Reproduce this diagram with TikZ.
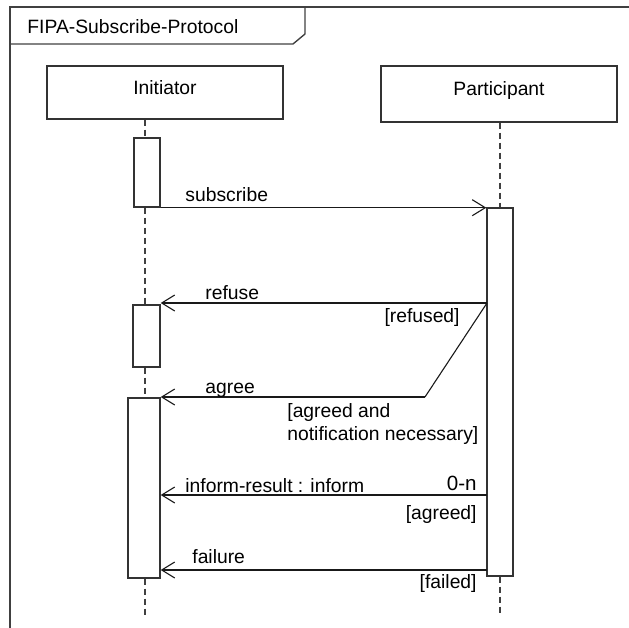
\documentclass[tikz,border=0pt]{standalone}
\usepackage{fontspec}
\setmainfont{Liberation Sans}
\usetikzlibrary{arrows.meta,calc}

\begin{document}
\begin{tikzpicture}[x=0.5pt,y=-0.5pt,
    frame/.style={draw=black!75,line width=0.7pt},
    actor/.style={rectangle,draw=black!80,line width=0.7pt,inner sep=0pt,
        font=\fontsize{9.65}{11.5}\selectfont,text height=8pt,text depth=6.5pt},
    activation/.style={rectangle,draw=black!80,line width=0.7pt,fill=white,inner sep=0pt},
    lifeline/.style={black!75,line width=0.7pt,dash pattern=on 3pt off 2pt},
    msg/.style={black!90,line width=0.55pt,-{Straight Barb[length=6.5pt,width=8pt]}},
    branch/.style={black!90,line width=0.55pt},
    lbl/.style={inner sep=0pt,font=\fontsize{9.65}{11.5}\selectfont}
]
\useasboundingbox (0,0) rectangle (629,628);

% frame and title tab
\draw[frame] (629,7) -| (10,628);
\draw[frame] (10,44) -- (293,44) -- (305,34) -- (305,7);
\node[lbl,anchor=base west] (title) at (27,33) {FIPA-Subscribe-Protocol};

% actors
\node[actor,minimum width=118pt,minimum height=26.5pt] (init) at (165,92.5) {Initiator};
\node[actor,minimum width=118pt,minimum height=28pt]   (part) at (499,94)   {Participant};

% activations
\node[activation,minimum width=13pt,minimum height=34.5pt] (act1)    at (147,172.5) {};
\node[activation,minimum width=13.5pt,minimum height=31pt] (act2)    at (146.5,336) {};
\node[activation,minimum width=16pt,minimum height=90pt]   (act3)    at (144,488)   {};
\node[activation,minimum width=13pt,minimum height=184pt]  (partact) at (500,392)   {};

% lifelines
\coordinate (iend) at (145,615);
\coordinate (pend) at (500,615);
\draw[lifeline] (init.south -| iend) -- (act1.north -| iend);
\draw[lifeline] (act1.south -| iend) -- (act2.north -| iend);
\draw[lifeline] (act2.south -| iend) -- (act3.north -| iend);
\draw[lifeline] (act3.south -| iend) -- (iend);
\draw[lifeline] (part.south -| pend) -- (partact.north);
\draw[lifeline] (partact.south) -- (pend);

% messages
\coordinate (refsrc)  at (487,303);
\coordinate (agrsrc)  at (425,397);
\coordinate (infsrc)  at (487,495);
\coordinate (failsrc) at (487,570);

\draw[msg] (act1.south east) -- (act1.south east -| partact.west);
\draw[msg] (refsrc) -- (refsrc -| act2.east);
\draw[branch] (refsrc) -- (agrsrc);
\draw[msg] (agrsrc) -- (agrsrc -| act3.east);
\draw[msg] (infsrc) -- (infsrc -| act3.east);
\draw[msg] (failsrc) -- (failsrc -| act3.east);

% labels
\node[lbl,anchor=base west] (lsub)  at (185,201) {subscribe};
\node[lbl,anchor=base west] (lref)  at (205,299) {refuse};
\node[lbl,anchor=base east] (gref)  at (460,322) {[refused]};
\node[lbl,anchor=base west] (lagr)  at (205,393) {agree};
\node[lbl,anchor=base west,align=left] (gagr) at (287,440) {[agreed and\\notification necessary]};
\node[lbl,anchor=base west] (linf)  at (185,492) {inform-result : inform};
\node[lbl,anchor=base east,font=\fontsize{10.3}{12}\selectfont] (minf) at (477,490) {0-n};
\node[lbl,anchor=base east] (ginf)  at (477,519) {[agreed]};
\node[lbl,anchor=base west] (lfail) at (192,563) {failure};
\node[lbl,anchor=base east] (gfail) at (477,588) {[failed]};
\end{tikzpicture}
\end{document}
